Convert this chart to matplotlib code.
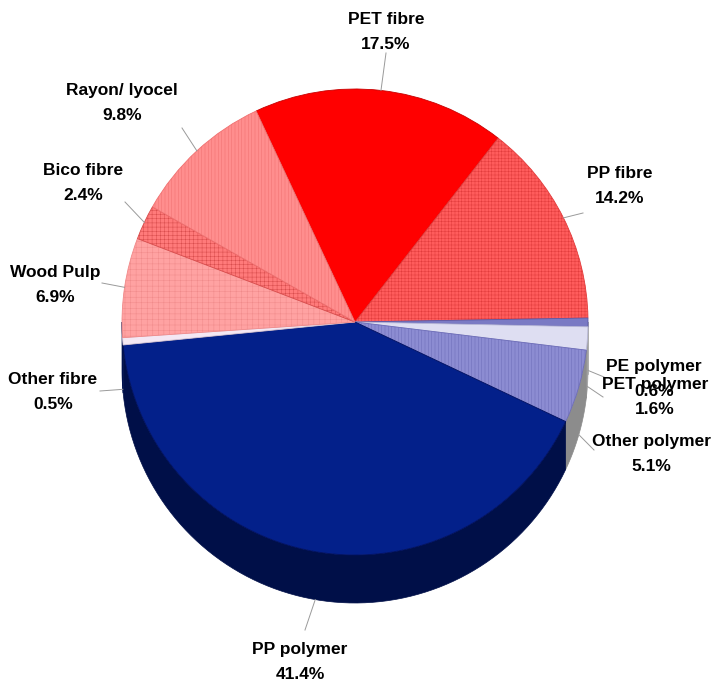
import numpy as np
import matplotlib
matplotlib.use("Agg")
import matplotlib.pyplot as plt
from matplotlib.patches import Polygon

labels = ["PET fibre", "PP fibre", "PE polymer", "PET polymer", "Other polymer",
          "PP polymer", "Other fibre", "Wood Pulp", "Bico fibre", "Rayon/ lyocel"]
shares = [17.5, 14.2, 0.6, 1.6, 5.1, 41.4, 0.5, 6.9, 2.4, 9.8]

top_colors = ["#ff0000", "#ff5c5c", "#7a7ac4", "#dedef2", "#8c8cd2",
              "#03208a", "#f4e8f4", "#ffa2a2", "#ff7a7a", "#ff8e8e"]
edge_colors = ["#c80000", "#e23c3c", "#5a5aa8", "#b8b8d8", "#6c6cb8",
               "#001060", "#d8c8d8", "#f08a8a", "#d84c4c", "#f07070"]
side_colors = ["#a00000", "#b03030", "#8a8a8a", "#a0a0a0", "#8c8c8c",
               "#000f48", "#00114e", "#00114e", "#b04848", "#c06060"]
hatches = [None, "+++++", None, None, "|||||", None, None, "+++", "++++", "|||||"]

# label block centres and leader end points (y measured upwards)
label_xy = [(386, 665), (620, 511), (654, 318), (655, 300), (651, 243),
            (300, 35), (53, 305), (55, 412), (83, 514), (122, 594)]
leader_end = [(386, 644), (583, 484), (604, 320), (603, 300), (594, 247),
              (305, 67), (100, 306), (102, 414), (125, 495), (182, 569)]

W, H = 712, 697
cx, cy, R = 355, 375, 233
depth = 48

plt.rcParams["hatch.linewidth"] = 0.35
fig = plt.figure(figsize=(W / 100, H / 100), dpi=100)
ax = fig.add_axes([0, 0, 1, 1])

wedges, _ = ax.pie(shares, startangle=115.1, counterclock=False,
                   center=(cx, cy), radius=R, colors=top_colors,
                   wedgeprops=dict(linewidth=0.6), frame=True)
ax.set_xlim(0, W)
ax.set_ylim(0, H)
ax.set_aspect("equal")
ax.axis("off")


def lower_span(t1, t2):
    # part of [t1, t2] (degrees) lying in the front half, 180..360
    spans = []
    for off in (-360, 0, 360):
        a, b = max(t1, 180 + off), min(t2, 360 + off)
        if b > a:
            spans.append((a, b))
    return spans


for w, ec, sc, h in zip(wedges, edge_colors, side_colors, hatches):
    w.set_edgecolor(ec)
    if h:
        w.set_hatch(h)
    w.set_zorder(3)
    for a, b in lower_span(w.theta1, w.theta2):
        t = np.radians(np.linspace(a, b, 80))
        xs = cx + R * np.cos(t)
        ys = cy + R * np.sin(t)
        pts = np.column_stack([np.r_[xs, xs[::-1]], np.r_[ys, ys[::-1] - depth]])
        ax.add_patch(Polygon(pts, closed=True, facecolor=sc, edgecolor=sc,
                             linewidth=0.5, zorder=2))

font = dict(family="Liberation Sans", weight="bold", size=12.5)
for w, name, pct, (tx, ty), (lx, ly) in zip(wedges, labels, shares, label_xy, leader_end):
    mid = np.radians(0.5 * (w.theta1 + w.theta2))
    px, py = cx + R * np.cos(mid), cy + R * np.sin(mid)
    if np.sin(mid) < 0:
        py -= depth
    ax.plot([px, lx], [py, ly], color="#9a9a9a", linewidth=0.7, zorder=4)
    ax.text(tx, ty, f"{name}\n{pct:.1f}%", ha="center", va="center",
            linespacing=1.85, color="#000000", zorder=5, **font)

fig.savefig("out.png", dpi=100)
